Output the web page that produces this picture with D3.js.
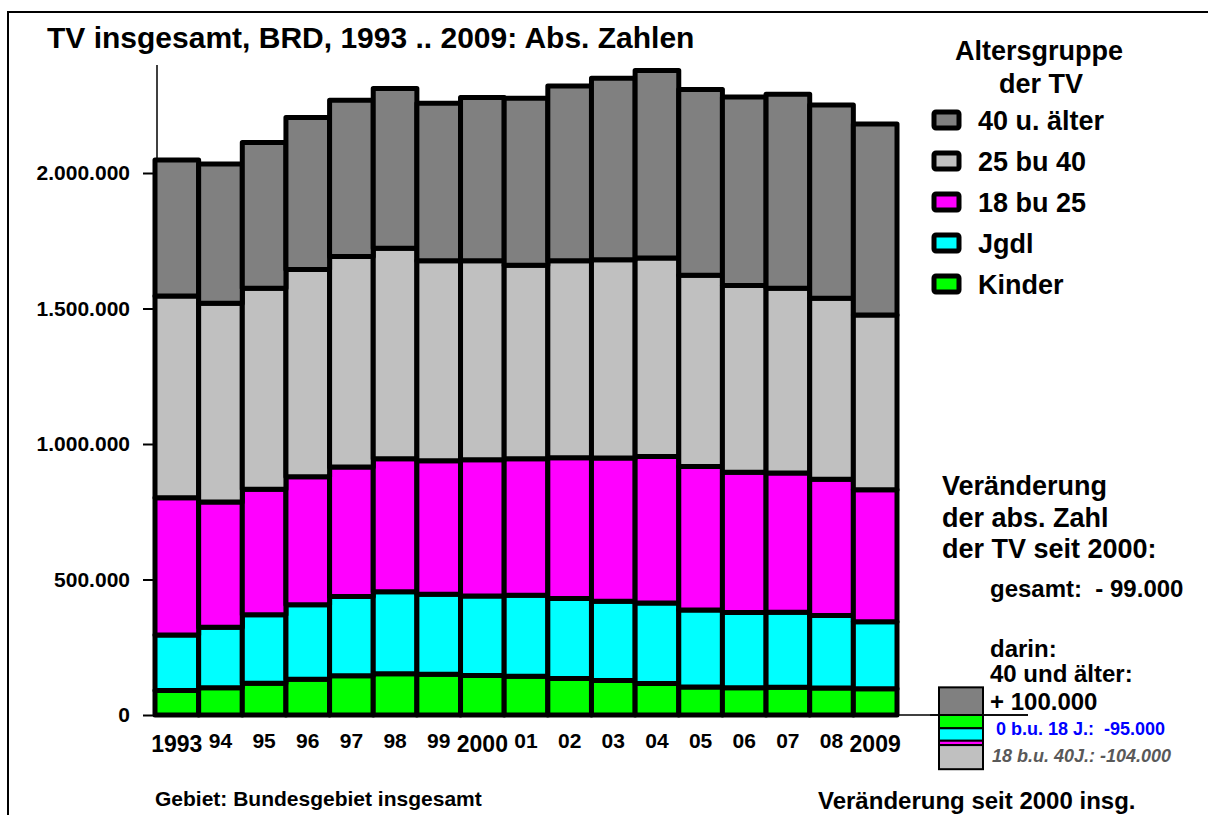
<!DOCTYPE html>
<html>
<head>
<meta charset="utf-8">
<script src="https://cdn.jsdelivr.net/npm/d3@7"></script>
<style>
  body { margin: 0; background: #fff; }
  text { font-family: "Liberation Sans", Arial, sans-serif; font-weight: bold; }
</style>
</head>
<body>
<script>
// Werte in Tausend
const years = ['1993','94','95','96','97','98','99','2000','01','02','03','04','05','06','07','08','2009'];
const kinder  = [90, 101, 117, 132, 145, 152, 150, 146, 143, 135, 127, 116, 103, 101, 102, 100, 97];
const jgdl    = [205, 223, 253, 275, 292, 303, 296, 293, 299, 295, 293, 297, 284, 277, 277, 267, 247];
const a18_25  = [507, 462, 463, 472, 478, 491, 492, 503, 504, 519, 528, 541, 530, 518, 514, 503, 487];
const a25_40  = [744, 733, 742, 765, 777, 776, 738, 734, 714, 727, 732, 732, 706, 689, 682, 668, 645];
const a40plus = [502, 514, 538, 561, 576, 590, 581, 603, 616, 645, 670, 692, 685, 695, 716, 713, 705];
const yTicks = [0, 500000, 1000000, 1500000, 2000000];

const keys = ['kinder', 'jgdl', 'a18_25', 'a25_40', 'a40plus'];
const colors = {kinder: '#00ff00', jgdl: '#00ffff', a18_25: '#ff00ff', a25_40: '#c0c0c0', a40plus: '#808080'};
const legendItems = [['a40plus', '40 u. älter'], ['a25_40', '25 bu 40'], ['a18_25', '18 bu 25'], ['jgdl', 'Jgdl'], ['kinder', 'Kinder']];

const table = years.map((yr, i) => ({
    year: yr,
    kinder: kinder[i] * 1000,
    jgdl: jgdl[i] * 1000,
    a18_25: a18_25[i] * 1000,
    a25_40: a25_40[i] * 1000,
    a40plus: a40plus[i] * 1000
}));

const width = 1208, height = 815;
const svg = d3.select('body').append('svg').attr('width', width).attr('height', height);

// Rahmen
svg.append('path')
    .attr('d', 'M8,816 L8,12 L1208,12')
    .attr('fill', 'none').attr('stroke', '#000').attr('stroke-width', 2);

const x = d3.scaleBand().domain(years).range([155, 897]).padding(0);
const y = d3.scaleLinear().domain([0, 2000000]).range([715, 173]);

// y-Achse
svg.append('line').attr('x1', 157).attr('x2', 157).attr('y1', 65).attr('y2', 715)
    .attr('stroke', '#000').attr('stroke-width', 1.5);

const yAxis = svg.append('g')
    .attr('transform', 'translate(157,0)')
    .call(d3.axisLeft(y).tickValues(yTicks).tickSize(14).tickPadding(13)
        .tickFormat(d => d3.format(',')(d).replace(/,/g, '.')));
yAxis.select('.domain').remove();
yAxis.selectAll('.tick line').attr('stroke-width', 2);
yAxis.selectAll('.tick text').attr('font-size', 21).attr('fill', '#000')
    .style('font-family', '"Liberation Sans", Arial, sans-serif').style('font-weight', 'bold');

// gestapelte Balken
const series = d3.stack().keys(keys)(table);
svg.append('g').selectAll('g')
    .data(series)
    .join('g')
    .attr('fill', d => colors[d.key])
    .selectAll('rect')
    .data(d => d)
    .join('rect')
    .attr('x', d => x(d.data.year))
    .attr('y', d => y(d[1]))
    .attr('width', x.bandwidth())
    .attr('height', d => y(d[0]) - y(d[1]))
    .attr('stroke', '#000')
    .attr('stroke-width', 5)
    .attr('stroke-linejoin', 'round');

// x-Beschriftung
const bigYears = ['1993', '2000', '2009'];
svg.append('g').selectAll('text')
    .data(years)
    .join('text')
    .attr('x', d => x(d) + x.bandwidth() / 2)
    .attr('y', d => bigYears.includes(d) ? 752 : 748)
    .attr('text-anchor', 'middle')
    .attr('font-size', d => bigYears.includes(d) ? 23 : 21)
    .text(d => d);

// Grundlinie rechts verlängert
svg.append('line').attr('x1', 897).attr('x2', 1028).attr('y1', y(0)).attr('y2', y(0))
    .attr('stroke', '#000').attr('stroke-width', 1.5);

// Titel
svg.append('text').attr('x', 47).attr('y', 48).attr('font-size', 30)
    .text('TV insgesamt, BRD, 1993 .. 2009: Abs. Zahlen');

// Legende
svg.append('text').attr('x', 1039).attr('y', 60).attr('text-anchor', 'middle').attr('font-size', 27).text('Altersgruppe');
svg.append('text').attr('x', 1041).attr('y', 93).attr('text-anchor', 'middle').attr('font-size', 27).text('der TV');

const legend = svg.append('g').selectAll('g')
    .data(legendItems)
    .join('g')
    .attr('transform', (d, i) => `translate(0,${120 + i * 41})`);
legend.append('rect')
    .attr('x', 934).attr('y', -8).attr('width', 25).attr('height', 16)
    .attr('rx', 2)
    .attr('fill', d => colors[d[0]])
    .attr('stroke', '#000').attr('stroke-width', 5).attr('stroke-linejoin', 'round');
legend.append('text')
    .attr('x', 978).attr('y', 10).attr('font-size', 27)
    .text(d => d[1]);

// Veränderung seit 2000
svg.append('text').attr('x', 942).attr('y', 495).attr('font-size', 27).text('Veränderung');
svg.append('text').attr('x', 942).attr('y', 527).attr('font-size', 27).text('der abs. Zahl');
svg.append('text').attr('x', 942).attr('y', 558).attr('font-size', 27).text('der TV seit 2000:');
svg.append('text').attr('x', 990).attr('y', 597).attr('font-size', 24).attr('xml:space', 'preserve').text('gesamt:  - 99.000');
svg.append('text').attr('x', 990).attr('y', 657).attr('font-size', 24).text('darin:');
svg.append('text').attr('x', 990).attr('y', 682).attr('font-size', 24).text('40 und älter:');
svg.append('text').attr('x', 990).attr('y', 710).attr('font-size', 24).text('+ 100.000');
svg.append('text').attr('x', 996).attr('y', 735).attr('font-size', 18).attr('fill', '#0000ff')
    .attr('xml:space', 'preserve').text('0 b.u. 18 J.:  -95.000');
svg.append('text').attr('x', 992).attr('y', 762).attr('font-size', 18).attr('fill', '#595959')
    .attr('font-style', 'italic').text('18 b.u. 40J.: -104.000');

// kleiner Balken der Veränderung 2000 -> 2009
const i2000 = years.indexOf('2000'), i2009 = years.indexOf('2009');
const delta = keys.map(k => ({key: k, v: table[i2009][k] - table[i2000][k]}));
let neg = 0, pos = 0;
delta.forEach(d => {
    if (d.v < 0) { d.y0 = neg; d.y1 = neg + d.v; neg += d.v; }
    else { d.y0 = pos; d.y1 = pos + d.v; pos += d.v; }
});
const dy = v => y(v) - y(0);
svg.append('g').selectAll('rect')
    .data(delta)
    .join('rect')
    .attr('x', 939)
    .attr('width', 44)
    .attr('y', d => y(0) + Math.min(dy(d.y0), dy(d.y1)))
    .attr('height', d => Math.abs(dy(d.y1) - dy(d.y0)))
    .attr('fill', d => colors[d.key])
    .attr('stroke', '#000').attr('stroke-width', 2);
svg.append('line').attr('x1', 930).attr('x2', 1028).attr('y1', y(0)).attr('y2', y(0))
    .attr('stroke', '#000').attr('stroke-width', 1.5);

// Fußzeilen
svg.append('text').attr('x', 155).attr('y', 806).attr('font-size', 21).text('Gebiet: Bundesgebiet insgesamt');
svg.append('text').attr('x', 818).attr('y', 809).attr('font-size', 24).text('Veränderung seit 2000 insg.');
</script>
</body>
</html>
